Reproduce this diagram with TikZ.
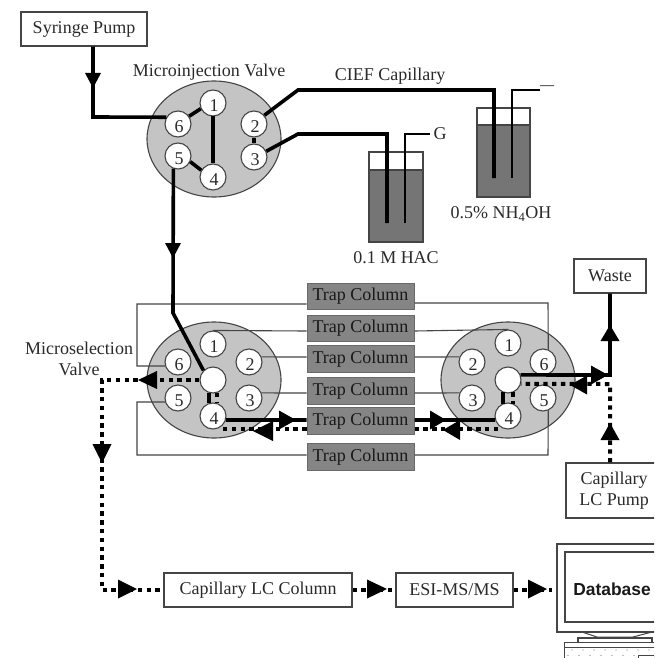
\documentclass[tikz,border=0pt]{standalone}
\usepackage{fontspec}
\setmainfont{Liberation Serif}
\newfontfamily\dbfont{Liberation Sans}
\definecolor{ink}{HTML}{2A2A2A}
\definecolor{edge}{HTML}{454545}
\definecolor{valvegray}{HTML}{C4C4C4}
\definecolor{trapgray}{HTML}{858585}
\definecolor{liquid}{HTML}{757575}
\tikzset{
  txt/.style={font=\fontsize{18}{21}\selectfont,text=ink,inner sep=0pt,align=center},
  whitebox/.style={draw=edge,line width=1.1pt,fill=white,font=\fontsize{18}{21}\selectfont,text=ink,inner sep=0pt,align=center,minimum width=#1},
  trap/.style={draw=edge!80,line width=1pt,fill=trapgray,font=\fontsize{18}{21}\selectfont,text=black!90,inner sep=0pt,minimum width=107pt,minimum height=26.5pt},
  valve/.style={ellipse,draw=edge,line width=1.1pt,fill=valvegray,minimum width=134pt,minimum height=116pt,inner sep=0pt},
  port/.style={circle,draw=edge,line width=1.1pt,fill=white,minimum size=26pt,inner sep=0pt},
  num/.style={font=\fontsize{18}{18}\selectfont,text=ink,inner sep=0pt},
  thin/.style={draw=edge,line width=1.1pt},
  thick/.style={draw=black,line width=3.6pt,line join=miter},
  dots/.style={draw=black,line width=4pt,dash pattern=on 4.4pt off 4.4pt},
  head/.style={fill=black}
}
\usetikzlibrary{shapes.geometric}
\newcommand{\headat}[5]{\fill[head,shift={(#1,#2)},rotate=#3] (0pt,0pt) -- (-#4pt,#5pt) -- (-#4pt,-#5pt) -- cycle;}
\newcommand{\portat}[4]{\node[port] (#1) at (#2,#3) {}; \node[num] (#1t) at (#2+1,#3+2.5) {#4};}
\newcommand{\beaker}[5]{%
  \fill[white] (#1,#3) rectangle (#2,#4);
  \fill[liquid] (#1,#4) rectangle (#2,#5);
  \draw[edge,line width=1.1pt] (#1,#3) rectangle (#2,#5);
  \draw[edge,line width=1.1pt] (#1,#4) -- (#2,#4);
}
\begin{document}
\begin{tikzpicture}[x=1pt,y=-1pt]
\useasboundingbox (0,0) rectangle (654,658);
\clip (0,0) rectangle (654,658);
\fill[white] (0,0) rectangle (654,658);

% text labels
\node[whitebox=126pt,minimum height=34pt] (syr) at (84,29) {Syringe Pump};
\node[txt] (mi) at (209,72) {Microinjection Valve};
\node[txt] (cief) at (390,76) {CIEF Capillary};
\node[txt] (hac) at (396,258) {0.1 M HAC};
\node[txt] (nh) at (501,214) {0.5\% NH\textsubscript{4}OH};
\node[txt] (g) at (440,134) {G};
\node[txt,font=\fontsize{14}{15}\selectfont,text=black] (minus) at (547,88) {—};
\node[txt] (ms) at (79,358.5) {Microselection\\Valve};

% beakers
\beaker{369}{423}{152}{170}{242}
\beaker{477}{530}{108}{125}{197}

% valves
\node[valve] (v1) at (214,139) {};
\node[valve] (vl) at (214,380) {};
\node[valve] (vr) at (508,380) {};

\portat{a1}{213}{103}{1}
\portat{a2}{254}{124}{2}
\portat{a3}{254}{157}{3}
\portat{a4}{213}{177}{4}
\portat{a5}{178}{156}{5}
\portat{a6}{178}{124}{6}

\portat{l1}{213}{344}{1}
\portat{l2}{249}{362}{2}
\portat{l3}{249}{398}{3}
\portat{l4}{213}{416}{4}
\portat{l5}{178}{398}{5}
\portat{l6}{178}{362}{6}
\node[port] (lc) at (213,380) {};

\portat{r1}{508}{343}{1}
\portat{r2}{472}{362}{2}
\portat{r3}{472}{398}{3}
\portat{r4}{508}{416}{4}
\portat{r5}{543}{398}{5}
\portat{r6}{543}{362}{6}
\node[port] (rc) at (508,380) {};

% trap columns
\node[trap] (tc1) at (360.5,296.5) {Trap Column};
\node[trap] (tc2) at (360.5,328.5) {Trap Column};
\node[trap] (tc3) at (360.5,359) {Trap Column};
\node[trap] (tc4) at (360.5,391) {Trap Column};
\node[trap] (tc5) at (360.5,421) {Trap Column};
\node[trap] (tc6) at (360.5,457) {Trap Column};

% boxes
\node[whitebox=72pt,minimum height=34pt] (waste) at (610,276) {Waste};
\node[whitebox=96pt,minimum height=55pt] (pump) at (614,490.5) {Capillary\\LC Pump};
\node[whitebox=188pt,minimum height=34pt] (lccol) at (258,590) {Capillary LC Column};
\node[whitebox=117pt,minimum height=34pt] (esi) at (454.5,590) {ESI-MS/MS};

% monitor
\node[draw=edge,line width=1.2pt,fill=white,minimum width=120pt,minimum height=88pt,inner sep=0pt] (mon) at (617,588) {};
\node[draw=edge,line width=1.2pt,fill=white,minimum width=110pt,minimum height=70pt,inner sep=0pt] (scr) at (620,587) {};
\node[font=\fontsize{17.4}{20}\dbfont\bfseries,text=black!90,inner sep=0pt] (dbt) at (612,589) {Database};
\draw[edge,line width=1pt] (582,632) -- (597,637) -- (633,637) -- (652,632);
\draw[edge,line width=1.1pt] (578,642) -- (578,638) -- (652,638) -- (652,642);
\draw[edge,line width=1pt,fill=white] (564,642) rectangle (664,664);
\draw[edge,line width=.8pt] (564,647) -- (664,647);
\foreach \k in {0,...,7} {
  \fill[gray] (572+11*\k,650) circle (.7pt);
  \fill[gray] (568+11*\k,655.5) circle (.7pt);
}
\draw[edge,line width=.7pt] (638,655) rectangle (654,660);

% thin connections
\path[thin] (tc1.west |- 0,304) -- (137,304) -- (137,366) -- (l6.197);
\path[thin] (tc1.east |- 0,303) -- (548,303) -- (r6.67);
\path[thin] (tc2.west |- 0,331) -- (l1.north);
\path[thin] (tc2.east |- 0,331) -- (r1.north);
\path[thin] (tc3.west |- 0,357) -- (l2.22);
\path[thin] (tc3.east |- 0,357) -- (r2.158);
\path[thin] (tc4.west |- 0,393) -- (l3.22);
\path[thin] (tc4.east |- 0,393) -- (r3.158);
\path[thin] (tc6.west |- 0,455) -- (137,455) -- (137,402) -- (l5.197);
\path[thin] (tc6.east |- 0,455) -- (548,455) -- (r5.-67);

% electrodes
\coordinate (gend) at (g.west);
\coordinate (gtip) at (405,223);
\draw[black,line width=1.8pt] (gtip) -- (405,134) -- ([xshift=-3pt]gend);
\coordinate (mend) at (minus.west);
\coordinate (mtip) at (512,178);
\draw[black,line width=1.8pt] (mtip) -- (512,90) -- (mend |- 0,90);

% injection valve plumbing
\path[thick] (syr.south -| 93,0) -- (93,117) -- (a6.150);
\path[thick] (a6.35) -- (a1.205);
\path[thick] (213,116) -- (a4.north);
\path[thick] (a5.-25) -- (a4.150);
\path[thick] (a2.south) -- (a3.north);
\path[thick] (a2.40) -- (298,90) -- (494,90) -- (494,178);
\path[thick] (a3.25) -- (298,134) -- (387,134) -- (387,223);
\path[thick] (a5.-110) -- (173,313) -- (lc.135);

% selection valve: solid
\path[thick] (lc.253) -- (l4.107);
\path[thick] (l4.-17) -- (tc5.west |- 0,420);
\path[thick] (tc5.east |- 0,420) -- (r4.197);
\path[thick] (rc.247) -- (r4.113);
\path[thick] (rc.22) -- (610,375) -- (waste.south);

% dotted
\path[dots] (lc.west) -- (102,380) -- (102,590) -- (lccol.west);
\path[dots] (lc.-72) -- (l4.72);
\path[dots] (tc5.west |- 0,429) -- (l4.-45 |- 0,429);
\path[dots] (tc5.east |- 0,429) -- (r4.225 |- 0,429);
\path[dots] (rc.-67) -- (r4.67);
\path[dots] (pump.north -| waste.south) -- (610,384) -- (rc.-17);
\path[dots] (lccol.east) -- (esi.west);
\coordinate (dbend) at (552,590);
\path[dots] (esi.east) -- (dbend);

% arrowheads
\headat{93}{88}{270}{15}{8}
\headat{173}{258}{270}{15}{8}
\headat{138}{380}{180}{19}{9}
\headat{102}{463}{270}{19}{9.5}
\headat{137}{589}{0}{19}{9.5}
\headat{387}{589}{0}{20}{9.5}
\headat{547}{589}{0}{19}{9.5}
\headat{296}{420}{0}{17}{9.5}
\headat{253}{431}{180}{20}{10}
\headat{446}{420}{0}{16}{9.5}
\headat{443}{430}{180}{17}{10}
\headat{608}{375}{0}{17}{9.5}
\headat{570}{385}{180}{17}{9.5}
\headat{610}{325}{90}{16}{9.5}
\headat{610}{423}{90}{17}{9.5}
\end{tikzpicture}
\end{document}
